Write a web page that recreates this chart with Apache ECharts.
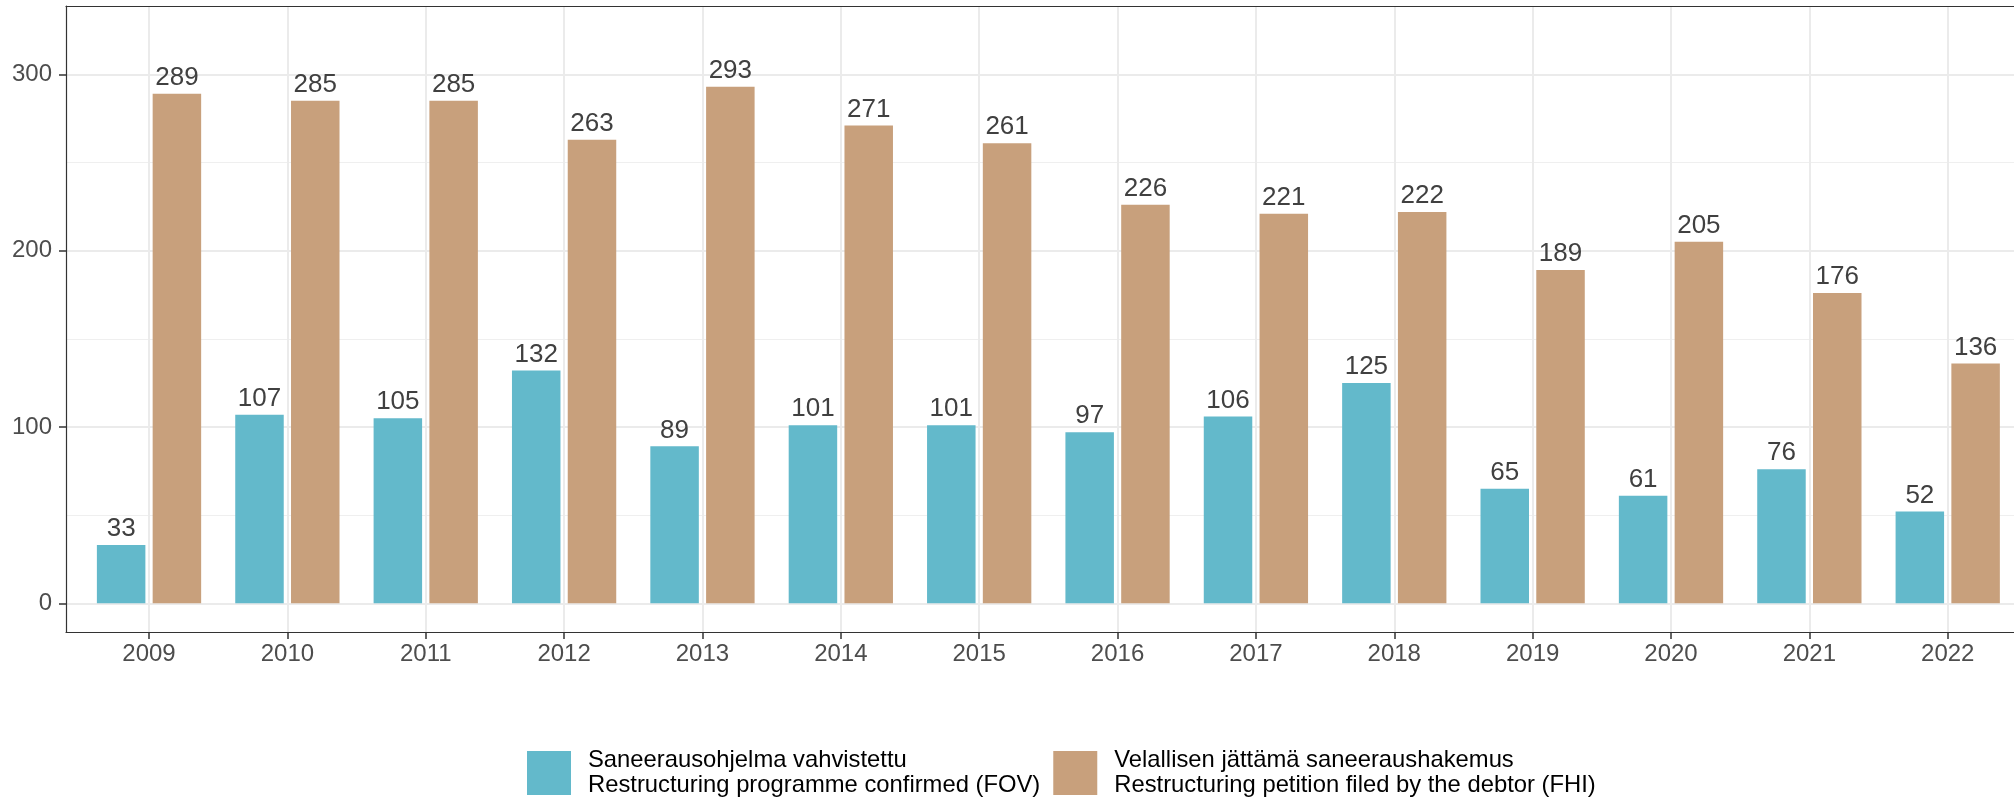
<!DOCTYPE html>
<html>
<head>
<meta charset="utf-8">
<script src="https://cdn.jsdelivr.net/npm/echarts@6/dist/echarts.min.js"></script>
<style>
  html, body { margin: 0; padding: 0; background: #fff; }
  #chart { width: 2014px; height: 797px; }
</style>
</head>
<body>
<div id="chart"></div>
<script>
const categories = ['2009','2010','2011','2012','2013','2014','2015','2016','2017','2018','2019','2020','2021','2022'];
const fovValues = [33, 107, 105, 132, 89, 101, 101, 97, 106, 125, 65, 61, 76, 52];
const fhiValues = [289, 285, 285, 263, 293, 271, 261, 226, 221, 222, 189, 205, 176, 136];
const yMajorTicks = [0, 100, 200, 300];
const yMinorTicks = [50, 150, 250];
const seriesNames = [
  'Saneerausohjelma vahvistettu\nRestructuring programme confirmed (FOV)',
  'Velallisen jättämä saneeraushakemus\nRestructuring petition filed by the debtor (FHI)'
];
const colors = ['#63B9CB', '#C8A07C'];

const xIdx = categories.map((c, i) => i);
const X_MIN = -0.6, X_MAX = 13.479;
const Y_MIN = -16.3, Y_MAX = 338.8;

const chart = echarts.init(document.getElementById('chart'), null, { renderer: 'canvas' });

const labelStyle = {
  show: true, position: 'top', distance: 3,
  fontSize: 26, color: '#404040'
};
const frameLine = { color: '#333333', width: 1.2 };

chart.setOption({
  animation: false,
  backgroundColor: '#ffffff',
  textStyle: { fontFamily: 'Liberation Sans, Arial, sans-serif' },
  color: colors,
  grid: {
    left: 66, top: 6, right: 0, bottom: 165,
    show: false, containLabel: false
  },
  legend: {
    left: 527, top: 748, padding: 0,
    orient: 'horizontal',
    itemWidth: 44, itemHeight: 44, itemGap: 13,
    icon: 'rect',
    selectedMode: false,
    data: seriesNames,
    textStyle: { fontSize: 23.8, color: '#000000', lineHeight: 25, padding: [0, 0, 0, 12] }
  },
  xAxis: [
    {
      type: 'value', position: 'bottom',
      min: X_MIN, max: X_MAX,
      axisLine: { show: true, onZero: false, lineStyle: frameLine },
      axisTick: { show: true, length: 7, customValues: xIdx, lineStyle: { color: '#333333', width: 1.5 } },
      axisLabel: {
        show: true, customValues: xIdx, fontSize: 24, color: '#4D4D4D', margin: 10,
        formatter: (v) => categories[Math.round(v)]
      },
      splitLine: { show: true, lineStyle: { color: '#EBEBEB', width: 2 } }
    },
    {
      type: 'value', position: 'top',
      min: X_MIN, max: X_MAX,
      axisLine: { show: true, onZero: false, lineStyle: frameLine },
      axisTick: { show: false },
      axisLabel: { show: false },
      splitLine: { show: false }
    }
  ],
  yAxis: [
    {
      type: 'value', position: 'left',
      min: Y_MIN, max: Y_MAX,
      axisLine: { show: true, onZero: false, lineStyle: frameLine },
      axisTick: { show: true, length: 7, customValues: yMajorTicks, lineStyle: { color: '#333333', width: 1.5 } },
      axisLabel: { show: true, customValues: yMajorTicks, fontSize: 24, color: '#4D4D4D', margin: 14 },
      splitLine: { show: true, lineStyle: { color: '#EBEBEB', width: 2 } }
    },
    {
      type: 'value', position: 'left',
      min: Y_MIN, max: Y_MAX,
      axisLine: { show: false, onZero: false },
      axisTick: { show: false, customValues: yMinorTicks },
      axisLabel: { show: false, customValues: yMinorTicks },
      splitLine: { show: true, lineStyle: { color: '#EFEFEF', width: 1 } }
    }
  ],
  series: [
    {
      name: seriesNames[0], type: 'bar', xAxisIndex: 0, yAxisIndex: 0,
      barWidth: 48.5, barGap: '15%',
      itemStyle: { color: colors[0] },
      label: labelStyle,
      data: fovValues.map((v, i) => [i, v])
    },
    {
      name: seriesNames[1], type: 'bar', xAxisIndex: 0, yAxisIndex: 0,
      barWidth: 48.5, barGap: '15%',
      itemStyle: { color: colors[1] },
      label: labelStyle,
      data: fhiValues.map((v, i) => [i, v])
    }
  ]
});
</script>
</body>
</html>
